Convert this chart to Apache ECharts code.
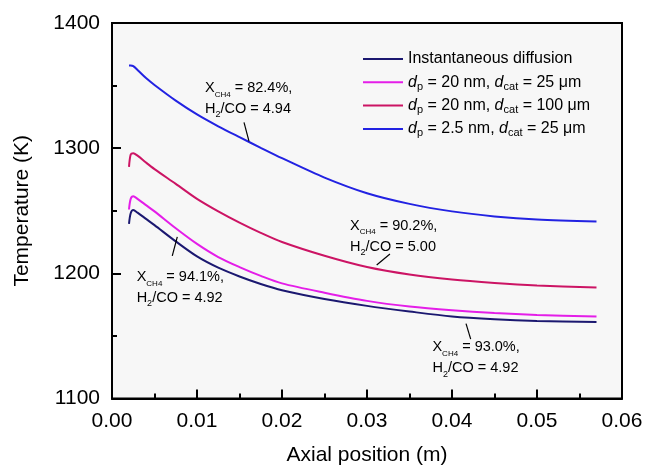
<!DOCTYPE html>
<html><head><meta charset="utf-8">
<script src="https://cdn.jsdelivr.net/npm/echarts@6/dist/echarts.min.js"></script>
<style>html,body{margin:0;padding:0;background:#fff}#c{width:645px;height:465px}</style>
</head><body><div id="c"></div>
<script>
// Axial position (m)
const xPos = [0.002, 0.0022, 0.0025, 0.003, 0.004, 0.005, 0.0075, 0.01, 0.0125, 0.015, 0.0175, 0.02, 0.025, 0.03, 0.035, 0.04, 0.045, 0.05, 0.057];
// Temperature (K)
const tInstant = [1239.5, 1248, 1250.5, 1248.5, 1243.5, 1238.5, 1225.5, 1213.5, 1204.5, 1197.5, 1191.5, 1186.5, 1179.5, 1174, 1169.5, 1165.5, 1163.3, 1162, 1161.2];
const tDp20Dc25 = [1251, 1259.5, 1261.5, 1259.5, 1254.5, 1249.5, 1236, 1223.5, 1213, 1205, 1198, 1192, 1184.5, 1178, 1173.5, 1170.5, 1168.3, 1166.8, 1165.5];
const tDp20Dc100 = [1285, 1295, 1296, 1294, 1288.5, 1283.3, 1271.5, 1259.5, 1249.5, 1240.5, 1232.3, 1225, 1214, 1205, 1199, 1195, 1192.3, 1190.3, 1188.6];
const tDp25Dc25 = [1366, 1366, 1365.5, 1362.5, 1356, 1350.5, 1338, 1327, 1317.5, 1308.8, 1300.3, 1292, 1276.5, 1264, 1255.5, 1249.5, 1245.5, 1243, 1241.5];

const seriesNames = ['Instantaneous diffusion', 'dp20dc25', 'dp20dc100', 'dp25dc25'];
const legendLabels = [
  'Instantaneous diffusion',
  '{i|d}{sub|p} = 20 nm, {i|d}{sub|cat} = 25 μm',
  '{i|d}{sub|p} = 20 nm, {i|d}{sub|cat} = 100 μm',
  '{i|d}{sub|p} = 2.5 nm, {i|d}{sub|cat} = 25 μm'
];
const seriesColors = ['#1b1870', '#e41ee8', '#cc1464', '#2222e2'];

// Annotations (anchor in data coordinates)
const annConv = ['82.4%', '90.2%', '94.1%', '93.0%'];
const annRatio = ['4.94', '5.00', '4.92', '4.92'];
const annAt = [[0.01094, 1356.5], [0.0280, 1246.5], [0.0029, 1205.5], [0.0377, 1149.5]];
const leadFrom = [[0.01553, 1320.6], [0.0327, 1215.4], [0.00768, 1229.2], [0.04165, 1159.8]];
const leadTo = [[0.01612, 1305.4], [0.03114, 1206.6], [0.00709, 1214.0], [0.0422, 1147.4]];

const FONT = '"Liberation Sans", Arial, Helvetica, sans-serif';
const chart = echarts.init(document.getElementById('c'), null, {renderer: 'canvas'});
const allT = [tInstant, tDp20Dc25, tDp20Dc100, tDp25Dc25];

chart.setOption({
  animation: false,
  backgroundColor: '#ffffff',
  grid: {left: 112, right: 23, top: 23, bottom: 66.5, outerBoundsMode: 'none', containLabel: false,
    show: true, borderColor: '#000', borderWidth: 2, backgroundColor: '#f7f7f7'},
  legend: {
    orient: 'vertical', left: 363, top: 49, padding: 0, itemWidth: 40, itemHeight: 2, itemGap: 3.3, icon: 'rect',
    data: seriesNames,
    formatter: function (n) { return legendLabels[seriesNames.indexOf(n)]; },
    textStyle: {fontFamily: FONT, fontSize: 16, color: '#000', lineHeight: 20,
      rich: {
        i: {fontStyle: 'italic', fontSize: 16, fontFamily: FONT, color: '#000', lineHeight: 20},
        sub: {fontSize: 11, fontFamily: FONT, color: '#000', lineHeight: 10, verticalAlign: 'bottom'}
      }}
  },
  xAxis: {
    type: 'value', min: 0, max: 0.06, interval: 0.01,
    name: 'Axial position (m)', nameLocation: 'middle', nameGap: 46,
    nameTextStyle: {fontFamily: FONT, fontSize: 21, color: '#000'},
    axisLine: {show: true, onZero: false, lineStyle: {color: '#000', width: 2}},
    axisTick: {show: true, inside: true, length: 9, lineStyle: {color: '#000', width: 2}},
    minorTick: {show: true, splitNumber: 2, length: 5, lineStyle: {color: '#000', width: 2}},
    axisLabel: {fontFamily: FONT, fontSize: 21, color: '#000', margin: 12, formatter: v => v.toFixed(2)},
    splitLine: {show: false}
  },
  yAxis: {
    type: 'value', min: 1100, max: 1400, interval: 100,
    name: 'Temperature (K)', nameLocation: 'middle', nameGap: 79, nameRotate: 90,
    nameTextStyle: {fontFamily: FONT, fontSize: 21, color: '#000'},
    axisLine: {show: true, onZero: false, lineStyle: {color: '#000', width: 2}},
    axisTick: {show: true, inside: true, length: 9, lineStyle: {color: '#000', width: 2}},
    minorTick: {show: true, splitNumber: 2, length: 5, lineStyle: {color: '#000', width: 2}},
    axisLabel: {fontFamily: FONT, fontSize: 21, color: '#000', margin: 12, formatter: v => String(v)},
    splitLine: {show: false}
  },
  series: seriesNames.map((n, k) => ({
    name: n, type: 'line', smooth: 0.3, showSymbol: false, symbol: 'none',
    color: seriesColors[k],
    lineStyle: {color: seriesColors[k], width: 2},
    data: xPos.map((x, i) => [x, allT[k][i]]),
    z: 3 + k
  }))
});

const annRich = {
  b: {fontSize: 14.5, fontFamily: FONT, color: '#000', lineHeight: 21},
  s: {fontSize: 8, fontFamily: FONT, color: '#000', lineHeight: 8, verticalAlign: 'bottom'},
  s2: {fontSize: 9, fontFamily: FONT, color: '#000', lineHeight: 9, verticalAlign: 'bottom'}
};
const graphics = [];
annAt.forEach((p, k) => {
  const px = chart.convertToPixel({gridIndex: 0}, p);
  graphics.push({
    type: 'text', left: px[0], top: px[1], z: 20,
    style: {
      text: '{b|X}{s|CH4}{b| = ' + annConv[k] + ',}\n{b|H}{s2|2}{b|/CO = ' + annRatio[k] + '}',
      rich: annRich, fontFamily: FONT, fontSize: 14.5, fill: '#000', lineHeight: 21
    }
  });
  const a = chart.convertToPixel({gridIndex: 0}, leadFrom[k]);
  const b = chart.convertToPixel({gridIndex: 0}, leadTo[k]);
  graphics.push({type: 'line', z: 20, shape: {x1: a[0], y1: a[1], x2: b[0], y2: b[1]}, style: {stroke: '#000', lineWidth: 1.2}});
});
chart.setOption({graphic: graphics});
</script>
</body></html>
